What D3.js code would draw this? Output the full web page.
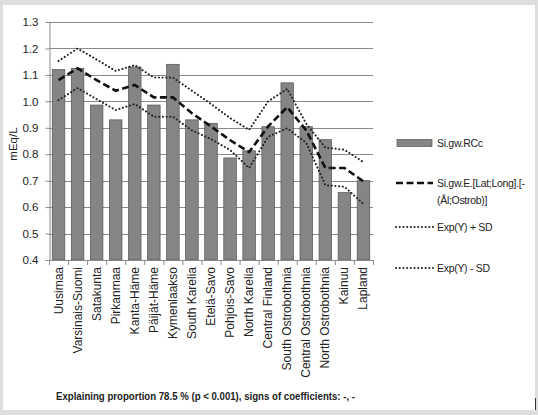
<!DOCTYPE html>
<html>
<head>
<meta charset="utf-8">
<script src="https://cdn.jsdelivr.net/npm/d3@7"></script>
<style>
  html, body { margin: 0; padding: 0; background: #dedede; }
  #chart { width: 538px; height: 415px; }
</style>
</head>
<body>
<div id="chart"></div>
<script>
const regions = ["Uusimaa", "Varsinais-Suomi", "Satakunta", "Pirkanmaa", "Kanta-Häme", "Päijät-Häme",
  "Kymenlaakso", "South Karelia", "Etelä-Savo", "Pohjois-Savo", "North Karelia", "Central Finland",
  "South Ostrobothnia", "Central Ostrobothnia", "North Ostrobothnia", "Kainuu", "Lapland"];

// observed (bars)
const rcc = [1.12, 1.125, 0.986, 0.93, 1.13, 0.986, 1.14, 0.93, 0.917, 0.786, 0.813, 0.904,
  1.07, 0.904, 0.855, 0.655, 0.70];
// modelled (dashed)
const expY = [1.08, 1.125, 1.08, 1.04, 1.062, 1.015, 1.015, 0.955, 0.905, 0.853, 0.808, 0.905,
  0.978, 0.89, 0.748, 0.748, 0.697];
const expPlusSD = [1.153, 1.20, 1.158, 1.115, 1.137, 1.09, 1.09, 1.04, 0.99, 0.937, 0.892, 1.0,
  1.047, 0.915, 0.825, 0.817, 0.77];
const expMinusSD = [1.005, 1.05, 1.008, 0.967, 0.99, 0.942, 0.942, 0.89, 0.857, 0.816, 0.748, 0.866,
  0.898, 0.843, 0.683, 0.677, 0.612];

const yTicks = [0.4, 0.5, 0.6, 0.7, 0.8, 0.9, 1.0, 1.1, 1.2, 1.3];

const legendItems = [
  { type: "bar", label: ["Si.gw.RCc"] },
  { type: "dash", label: ["Si.gw.E.[Lat;Long].[-", "(Ål;Ostrob)]"] },
  { type: "dot", label: ["Exp(Y) + SD"] },
  { type: "dot", label: ["Exp(Y) - SD"] }
];

const footnote = "Explaining proportion 78.5 % (p < 0.001), signs of coefficients: -, -";

const width = 538, height = 415;
const plot = { left: 49, right: 373, top: 22, bottom: 260 };
const font = "'Liberation Sans', Arial, sans-serif";

const svg = d3.select("#chart").append("svg")
    .attr("width", width)
    .attr("height", height)
    .attr("viewBox", [0, 0, width, height]);

// white panel
svg.append("rect")
    .attr("x", 3).attr("y", 5)
    .attr("width", 532).attr("height", 405)
    .attr("fill", "white");

svg.append("line")
    .attr("x1", 535.5).attr("x2", 535.5)
    .attr("y1", 398).attr("y2", 410)
    .attr("stroke", "#333").attr("stroke-width", 1);

const x = d3.scaleBand()
    .domain(regions)
    .range([plot.left, plot.right])
    .paddingInner(0.34)
    .paddingOuter(0.17);

const band = (plot.right - plot.left) / regions.length;

const y = d3.scaleLinear()
    .domain([0.4, 1.3])
    .range([plot.bottom, plot.top]);

// gridlines
svg.append("g")
  .selectAll("line")
  .data(yTicks.slice(1))
  .join("line")
    .attr("x1", plot.left).attr("x2", plot.right)
    .attr("y1", d => Math.round(y(d)) + 0.5)
    .attr("y2", d => Math.round(y(d)) + 0.5)
    .attr("stroke", "#8a8a8a")
    .attr("stroke-width", 1);

// y axis
const yAxis = svg.append("g")
    .attr("transform", `translate(${plot.left + 0.5},0)`)
    .call(d3.axisLeft(y).tickValues(yTicks).tickFormat(d3.format(".1f")).tickSize(4).tickSizeOuter(0));
yAxis.select(".domain").attr("stroke", "#8a8a8a");
yAxis.selectAll(".tick line").attr("stroke", "#8a8a8a");
yAxis.selectAll(".tick text")
    .attr("x", -11)
    .style("font-family", font)
    .style("font-size", "11.5px")
    .attr("fill", "#222");

svg.append("text")
    .attr("transform", `translate(17,144) rotate(-90)`)
    .attr("text-anchor", "middle")
    .style("font-family", font)
    .style("font-size", "11.5px")
    .attr("fill", "#222")
    .text("mEq/L");

// bars
svg.append("g")
  .selectAll("rect")
  .data(regions)
  .join("rect")
    .attr("x", d => x(d))
    .attr("y", (d, i) => y(rcc[i]))
    .attr("width", x.bandwidth())
    .attr("height", (d, i) => y(0.4) - y(rcc[i]))
    .attr("fill", "#858585")
    .attr("stroke", "#555")
    .attr("stroke-width", 0.7);

// x axis
svg.append("line")
    .attr("x1", plot.left).attr("x2", plot.right)
    .attr("y1", plot.bottom + 0.5).attr("y2", plot.bottom + 0.5)
    .attr("stroke", "#8a8a8a");
svg.append("g")
  .selectAll("line")
  .data(d3.range(regions.length + 1))
  .join("line")
    .attr("x1", i => plot.left + 0.5 + i * band)
    .attr("x2", i => plot.left + 0.5 + i * band)
    .attr("y1", plot.bottom)
    .attr("y2", plot.bottom + 5)
    .attr("stroke", "#8a8a8a");

svg.append("g")
  .selectAll("text")
  .data(regions)
  .join("text")
    .attr("transform", d => `translate(${x(d) + x.bandwidth() / 2 + 4},${plot.bottom + 7}) rotate(-90)`)
    .attr("text-anchor", "end")
    .style("font-family", font)
    .style("font-size", "12px")
    .attr("fill", "#222")
    .text(d => d);

// lines
const line = d3.line()
    .x((d, i) => x(regions[i]) + x.bandwidth() / 2)
    .y(d => y(d));

function dotted(sel) {
  sel.attr("fill", "none")
    .attr("stroke", "#222")
    .attr("stroke-width", 2)
    .attr("stroke-linecap", "round")
    .attr("stroke-dasharray", "0.1,3.6");
}
function dashed(sel) {
  sel.attr("fill", "none")
    .attr("stroke", "#111")
    .attr("stroke-width", 2.6)
    .attr("stroke-dasharray", "7,3.5");
}

svg.append("path").datum(expPlusSD).attr("d", line).call(dotted);
svg.append("path").datum(expMinusSD).attr("d", line).call(dotted);
svg.append("path").datum(expY).attr("d", line).call(dashed);

// legend
const legendY = [143, 183, 227, 268];
const lg = svg.append("g");
legendItems.forEach((item, k) => {
  const ly = legendY[k];
  if (item.type === "bar") {
    lg.append("rect")
      .attr("x", 397).attr("y", ly - 3.5)
      .attr("width", 35).attr("height", 7)
      .attr("fill", "#858585").attr("stroke", "#555").attr("stroke-width", 0.7);
  } else {
    lg.append("line")
      .attr("x1", 396).attr("x2", 433)
      .attr("y1", ly).attr("y2", ly)
      .call(item.type === "dash" ? dashed : dotted);
  }
  item.label.forEach((t, j) => {
    lg.append("text")
      .attr("x", 437)
      .attr("y", ly + 4 + j * 17)
      .style("font-family", font)
      .style("font-size", "10.5px")
      .style("letter-spacing", "-0.3px")
      .attr("fill", "#222")
      .text(t);
  });
});

svg.append("text")
    .attr("x", 56)
    .attr("y", 400)
    .attr("textLength", 299)
    .attr("lengthAdjust", "spacingAndGlyphs")
    .style("font-family", font)
    .style("font-size", "11.5px")
    .style("font-weight", "bold")
    .attr("fill", "#222")
    .text(footnote);
</script>
</body>
</html>
